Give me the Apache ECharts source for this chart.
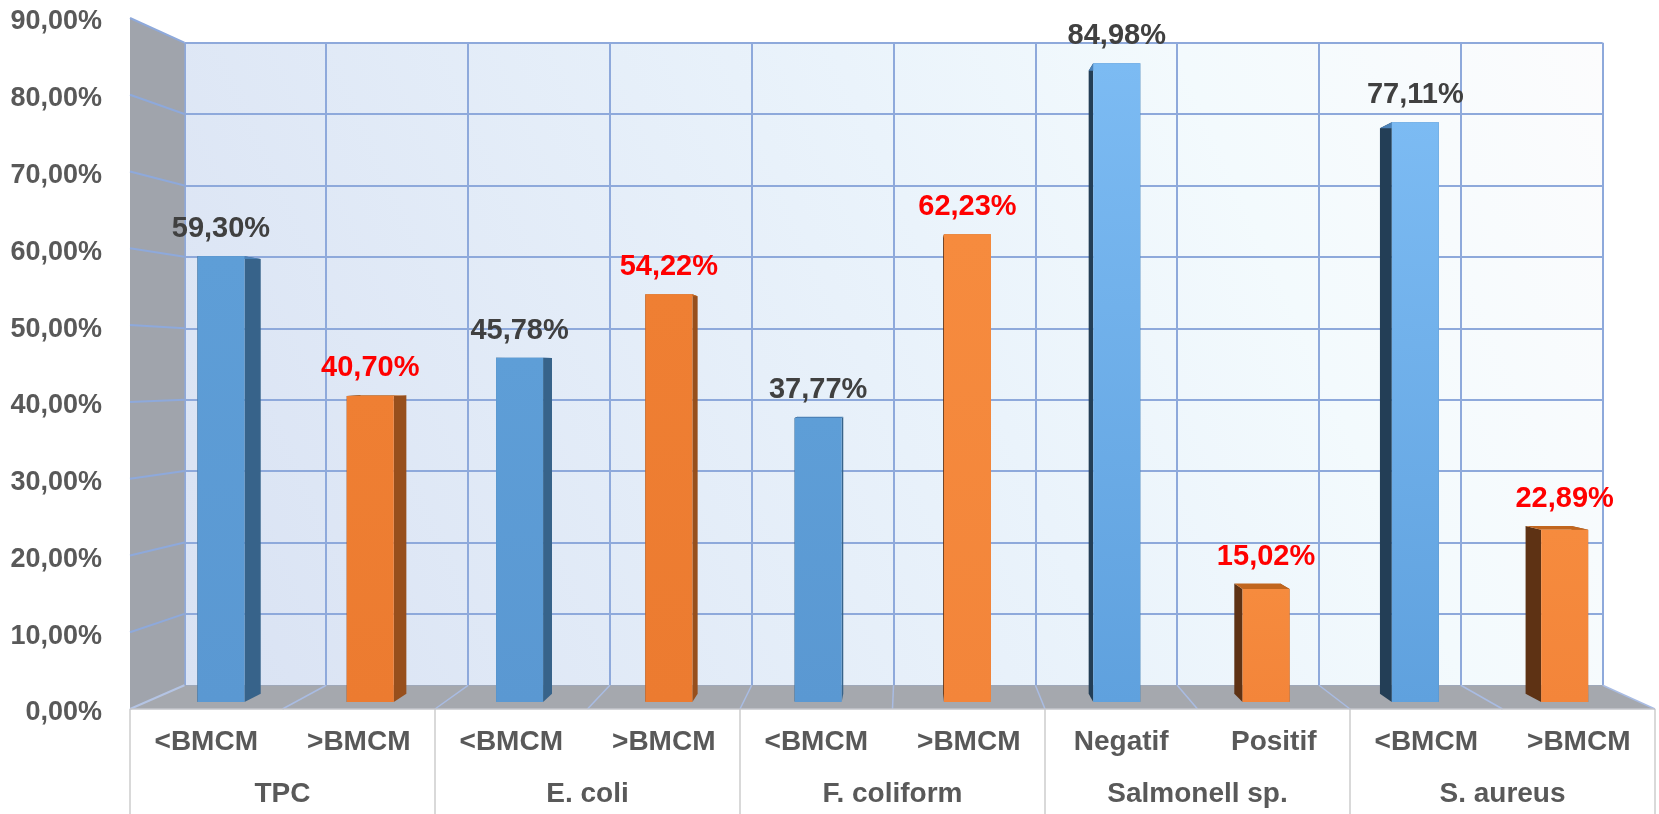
<!DOCTYPE html>
<html><head><meta charset="utf-8">
<script src="https://cdn.jsdelivr.net/npm/echarts@6/dist/echarts.min.js"></script>
<style>html,body{margin:0;padding:0;background:#fff}#c{width:1659px;height:814px}</style>
</head><body><div id="c"></div>
<script>
// ---- data ----
const groups = ['TPC', 'E. coli', 'F. coliform', 'Salmonell sp.', 'S. aureus'];
const subLabels = ['<BMCM', '>BMCM', '<BMCM', '>BMCM', '<BMCM', '>BMCM', 'Negatif', 'Positif', '<BMCM', '>BMCM'];
const firstValues = [59.30, 45.78, 37.77, 84.98, 77.11];
const secondValues = [40.70, 54.22, 62.23, 15.02, 22.89];
const Y_MIN = 0, Y_MAX = 90, Y_STEP = 10;

// ---- layout / perspective ----
const FRONT = { left: 130, top: 18, right: 1655, bottom: 709 };
const VP = [907, 370];
const S_BACK = 0.93, S_BAR_F = 0.979, S_BAR_B = 0.955, BAR_FRAC = 0.315;
function proj(p, s) { return [VP[0] + s * (p[0] - VP[0]), VP[1] + s * (p[1] - VP[1])]; }
const bTL = proj([FRONT.left, FRONT.top], S_BACK), bBR = proj([FRONT.right, FRONT.bottom], S_BACK);

const FONT = '"Liberation Sans", Arial, sans-serif';
const GRID_BLUE = '#8EA9DB';
const fmt = v => v.toFixed(2).replace('.', ',') + '%';

const firstData = firstValues.map((v, i) => [2 * i, v]);
const secondData = secondValues.map((v, i) => [2 * i + 1, v]);

const palettes = {
  first: { frontL: ['#5E9ED7', '#5A98D2'], frontR: ['#7CBBF3', '#5FA1DE'], sideR: '#37638A', sideL: '#233E56', top: '#4C82B8', label: '#404040' },
  second: { frontL: ['#EF7F33', '#EC7B30'], frontR: ['#F68B3E', '#F3853A'], sideR: '#974F1C', sideL: '#5E3214', top: '#C1661F', label: '#FF0000' }
};

function barRenderer(pal) {
  return function (params, api) {
    const idx = api.value(0), val = api.value(1);
    const c = api.coord([idx, val]), b = api.coord([idx, Y_MIN]);
    const hw = api.size([1, 0])[0] * BAR_FRAC / 2;
    const corners = [[c[0] - hw, c[1]], [c[0] + hw, c[1]], [c[0] + hw, b[1]], [c[0] - hw, b[1]]];
    const f = corners.map(p => proj(p, S_BAR_F));
    const k = corners.map(p => proj(p, S_BAR_B));
    const rightOfVP = c[0] > VP[0];
    const fc = rightOfVP ? pal.frontR : pal.frontL;
    const children = [
      { type: 'polygon', shape: { points: [f[1], k[1], k[2], f[2]] }, style: { fill: pal.sideR } },
      { type: 'polygon', shape: { points: [f[0], k[0], k[3], f[3]] }, style: { fill: pal.sideL } },
      { type: 'polygon', shape: { points: [f[0], f[1], k[1], k[0]] }, style: { fill: pal.top } },
      { type: 'polygon', shape: { points: f }, style: { fill: new echarts.graphic.LinearGradient(0, 0, 0, 1, [{ offset: 0, color: fc[0] }, { offset: 1, color: fc[1] }]) } },
      { type: 'text', style: { text: fmt(val), x: (f[0][0] + f[1][0]) / 2, y: Math.min(f[0][1], k[0][1]) - 27, align: 'center', verticalAlign: 'middle', fill: pal.label, font: 'bold 29px ' + FONT } }
    ];
    return { type: 'group', children };
  };
}

function wallRenderer(params, api) {
  const bw = api.size([1, 0])[0];
  const n = subLabels.length;
  const x0 = api.coord([0, Y_MIN])[0] - bw / 2;
  const x1 = api.coord([n - 1, Y_MIN])[0] + bw / 2;
  const y0 = api.coord([0, Y_MIN])[1];
  const y1 = api.coord([0, Y_MAX])[1];
  const ch = [];
  ch.push({ type: 'polygon', shape: { points: [[x0, y1], proj([x0, y1], S_BACK), proj([x0, y0], S_BACK), [x0, y0]] }, style: { fill: '#A0A4AC' } });
  ch.push({ type: 'polygon', shape: { points: [[x0, y0], [x1, y0], proj([x1, y0], S_BACK), proj([x0, y0], S_BACK)] }, style: { fill: '#A5A8AE' } });
  for (let v = Y_MIN; v <= Y_MAX; v += Y_STEP) {
    const y = api.coord([0, v])[1];
    const q = proj([x0, y], S_BACK);
    ch.push({ type: 'line', shape: { x1: x0, y1: y, x2: q[0], y2: q[1] }, style: { stroke: v === Y_MIN ? '#B4C4E4' : GRID_BLUE, lineWidth: 2 } });
  }
  for (let i = 1; i <= n; i++) {
    const x = x0 + i * bw;
    const q = proj([x, y0], S_BACK);
    ch.push({ type: 'line', shape: { x1: x, y1: y0, x2: q[0], y2: q[1] }, style: { stroke: '#A9BCE3', lineWidth: 1.5 } });
  }
  ch.push({ type: 'line', shape: { x1: x0, y1: y0, x2: x1, y2: y0 }, style: { stroke: '#C4C6CB', lineWidth: 1.5 } });
  return { type: 'group', children: ch };
}

const labelStyle = { fontSize: 28, fontWeight: 'bold', color: '#595959', fontFamily: FONT };

const chart = echarts.init(document.getElementById('c'), null, { renderer: 'canvas' });
chart.setOption({
  animation: false,
  backgroundColor: '#ffffff',
  grid: [
    { left: FRONT.left, top: FRONT.top, width: FRONT.right - FRONT.left, height: FRONT.bottom - FRONT.top, show: false },
    { left: bTL[0], top: bTL[1], width: bBR[0] - bTL[0], height: bBR[1] - bTL[1], show: true, borderWidth: 0,
      backgroundColor: new echarts.graphic.LinearGradient(0, 1, 1, 0, [
        { offset: 0, color: '#D9E2F3' }, { offset: 0.55, color: '#EAF3FB' }, { offset: 0.75, color: '#F3FAFD' }, { offset: 1, color: '#FCFCFD' }]) }
  ],
  xAxis: [
    { gridIndex: 0, type: 'category', data: subLabels, position: 'bottom', axisLine: { show: false }, axisTick: { show: false },
      axisLabel: Object.assign({ margin: 19, interval: 0 }, labelStyle), splitLine: { show: false } },
    { gridIndex: 0, type: 'category', data: groups, position: 'bottom', axisLine: { show: false },
      axisTick: { show: true, length: 105, interval: 0, lineStyle: { color: '#D9D9D9', width: 2 } },
      axisLabel: Object.assign({ margin: 71, interval: 0 }, labelStyle), splitLine: { show: false } },
    { gridIndex: 1, type: 'category', data: subLabels, axisLine: { show: false }, axisTick: { show: false }, axisLabel: { show: false },
      splitLine: { show: true, interval: 0, lineStyle: { color: GRID_BLUE, width: 2 } } }
  ],
  yAxis: [
    { gridIndex: 0, type: 'value', min: Y_MIN, max: Y_MAX, interval: Y_STEP, axisLine: { show: false }, axisTick: { show: false }, splitLine: { show: false },
      axisLabel: { margin: 28, formatter: v => '{a|' + fmt(v) + '}',
        rich: { a: { fontSize: 27, fontWeight: 'bold', color: '#595959', fontFamily: FONT, padding: [8, 0, 0, 0] } } } },
    { gridIndex: 1, type: 'value', min: Y_MIN, max: Y_MAX, interval: Y_STEP, axisLine: { show: false }, axisTick: { show: false }, axisLabel: { show: false },
      splitLine: { show: true, lineStyle: { color: GRID_BLUE, width: 2 } } }
  ],
  series: [
    { type: 'custom', name: 'walls', xAxisIndex: 0, yAxisIndex: 0, z: 1, silent: true, data: [[0, 0]], renderItem: wallRenderer },
    { type: 'custom', name: 'first', xAxisIndex: 0, yAxisIndex: 0, z: 3, data: firstData, renderItem: barRenderer(palettes.first) },
    { type: 'custom', name: 'second', xAxisIndex: 0, yAxisIndex: 0, z: 3, data: secondData, renderItem: barRenderer(palettes.second) }
  ]
});
</script></body></html>
